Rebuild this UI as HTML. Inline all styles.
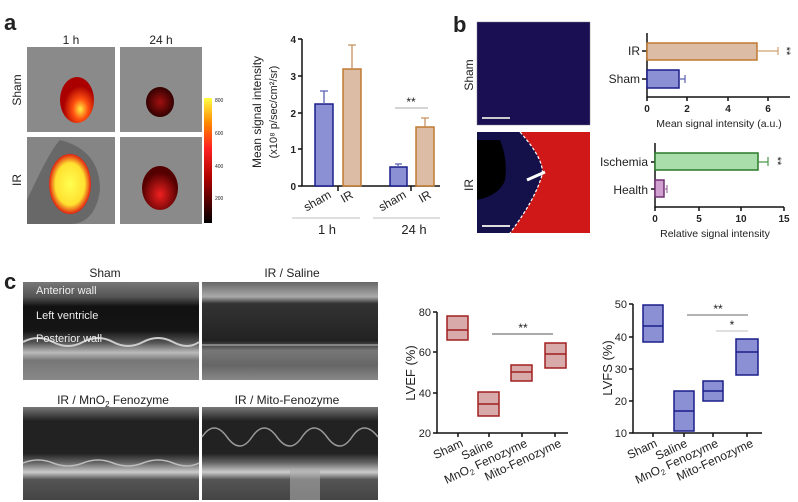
<!DOCTYPE html>
<html><head><meta charset="utf-8"><style>body{margin:0;background:#fff}svg{display:block}text{font-family:"Liberation Sans",Arial,sans-serif;fill:#222}</style></head>
<body>
<svg width="798" height="502" viewBox="0 0 798 502" xmlns="http://www.w3.org/2000/svg">
<defs>
<clipPath id="irc"><rect x="477" y="132" width="113" height="101"/></clipPath>
<linearGradient id="cb" x1="0" y1="1" x2="0" y2="0"><stop offset="0" stop-color="#000"/><stop offset="0.35" stop-color="#a00"/><stop offset="0.6" stop-color="#f22"/><stop offset="0.8" stop-color="#f80"/><stop offset="1" stop-color="#ff4"/></linearGradient>
<radialGradient id="hot1" cx="0.6" cy="0.7"><stop offset="0" stop-color="#ffee40"/><stop offset="0.45" stop-color="#ff5010"/><stop offset="1" stop-color="#a00"/></radialGradient>
<radialGradient id="hot2"><stop offset="0" stop-color="#a01010"/><stop offset="1" stop-color="#300"/></radialGradient>
<radialGradient id="hot3"><stop offset="0" stop-color="#ffff50"/><stop offset="0.7" stop-color="#ffe030"/><stop offset="1" stop-color="#e02010"/></radialGradient>
<radialGradient id="hot4" cy="0.65"><stop offset="0" stop-color="#f02020"/><stop offset="1" stop-color="#500"/></radialGradient>
<linearGradient id="us1" x1="0" y1="0" x2="0" y2="1"><stop offset="0" stop-color="#777"/><stop offset="0.15" stop-color="#555"/><stop offset="0.25" stop-color="#111"/><stop offset="0.5" stop-color="#151515"/><stop offset="0.62" stop-color="#555"/><stop offset="0.72" stop-color="#bbb"/><stop offset="0.8" stop-color="#777"/><stop offset="1" stop-color="#888"/></linearGradient>
<linearGradient id="us2" x1="0" y1="0" x2="0" y2="1"><stop offset="0" stop-color="#666"/><stop offset="0.15" stop-color="#aaa"/><stop offset="0.22" stop-color="#333"/><stop offset="0.6" stop-color="#222"/><stop offset="0.7" stop-color="#777"/><stop offset="0.85" stop-color="#666"/><stop offset="1" stop-color="#888"/></linearGradient>
<linearGradient id="us3" x1="0" y1="0" x2="0" y2="1"><stop offset="0" stop-color="#777"/><stop offset="0.15" stop-color="#222"/><stop offset="0.5" stop-color="#222"/><stop offset="0.6" stop-color="#666"/><stop offset="0.7" stop-color="#ccc"/><stop offset="0.78" stop-color="#555"/><stop offset="1" stop-color="#444"/></linearGradient>
</defs>

<!-- panel a -->
<text x="4" y="30" font-size="22" font-weight="bold" fill="#000">a</text>
<text x="71" y="44" font-size="12" text-anchor="middle">1 h</text>
<text x="161" y="44" font-size="12" text-anchor="middle">24 h</text>
<text transform="translate(21,90) rotate(-90)" font-size="12" text-anchor="middle">Sham</text>
<text transform="translate(21,180) rotate(-90)" font-size="12" text-anchor="middle">IR</text>
<rect x="27" y="47" width="88" height="85" fill="#8a8a8a"/>
<rect x="120" y="47" width="82" height="85" fill="#8c8c8c"/>
<rect x="27" y="137" width="88" height="87" fill="#858585"/>
<rect x="120" y="137" width="82" height="87" fill="#8a8a8a"/>
<path d="M60 140 Q100 150 100 190 Q95 224 70 224 L27 224 L27 200 Q50 150 60 140Z" fill="#555" opacity="0.6"/>
<ellipse cx="77" cy="100" rx="17" ry="23" fill="url(#hot1)"/>
<ellipse cx="160" cy="102" rx="14" ry="15" fill="url(#hot2)"/>
<ellipse cx="70" cy="184" rx="21" ry="30" fill="url(#hot3)"/>
<ellipse cx="160" cy="188" rx="18" ry="22" fill="url(#hot4)"/>
<rect x="204" y="98" width="8" height="125" fill="url(#cb)"/>
<g font-size="5" fill="#444"><text x="215" y="102">800</text><text x="215" y="135">600</text><text x="215" y="168">400</text><text x="215" y="200">200</text></g>

<text transform="translate(261,112) rotate(-90)" font-size="12" text-anchor="middle">Mean signal intensity</text>
<text transform="translate(277,112) rotate(-90)" font-size="11" text-anchor="middle">(x10⁸ p/sec/cm²/sr)</text>
<g stroke="#111" stroke-width="1.5" fill="none"><path d="M302 39 V186 H440"/><path d="M298 39H302M298 76H302M298 113H302M298 149H302M298 186H302M338 186V191M411 186V191"/></g>
<g font-size="10" font-weight="bold" text-anchor="end"><text x="296" y="43">4</text><text x="296" y="80">3</text><text x="296" y="117">2</text><text x="296" y="153">1</text><text x="296" y="190">0</text></g>
<rect x="315" y="104" width="18" height="82" fill="#8b8fd4" stroke="#1a1f8a" stroke-width="1.5"/>
<path d="M324 104V91M320 91H328" stroke="#5a5fb0" stroke-width="1.3"/>
<rect x="343" y="69" width="18" height="117" fill="#dcbca4" stroke="#c07a30" stroke-width="1.5"/>
<path d="M352 69V45M348 45H356" stroke="#c89060" stroke-width="1.3"/>
<rect x="390" y="167" width="17" height="19" fill="#8b8fd4" stroke="#1a1f8a" stroke-width="1.5"/>
<path d="M398 167V164M395 164H402" stroke="#5a5fb0" stroke-width="1.3"/>
<rect x="416" y="127" width="18" height="59" fill="#dcbca4" stroke="#c07a30" stroke-width="1.5"/>
<path d="M425 127V118M421 118H429" stroke="#c89060" stroke-width="1.3"/>
<path d="M395 108H428" stroke="#bbb" stroke-width="1.2"/>
<text x="411" y="106" font-size="12" text-anchor="middle" fill="#444">**</text>
<g font-size="12"><text transform="translate(332,197) rotate(-30)" text-anchor="end">sham</text><text transform="translate(354,197) rotate(-30)" text-anchor="end">IR</text><text transform="translate(407,197) rotate(-30)" text-anchor="end">sham</text><text transform="translate(432,197) rotate(-30)" text-anchor="end">IR</text></g>
<path d="M292 218H360M373 218H440" stroke="#ccc" stroke-width="1.2"/>
<text x="327" y="234" font-size="13" text-anchor="middle">1 h</text>
<text x="414" y="234" font-size="13" text-anchor="middle">24 h</text>

<!-- panel b -->
<text x="453" y="32" font-size="22" font-weight="bold" fill="#000">b</text>
<text transform="translate(473,75) rotate(-90)" font-size="12" text-anchor="middle">Sham</text>
<text transform="translate(473,185) rotate(-90)" font-size="12" text-anchor="middle">IR</text>
<rect x="477" y="22" width="113" height="103" fill="#1a0a3a" stroke="#888" stroke-width="0.5"/>
<rect x="477" y="22" width="113" height="103" fill="#2020a0" opacity="0.25"/>
<rect x="482" y="117" width="28" height="2" fill="#ccc"/>
<g clip-path="url(#irc)">
<rect x="477" y="132" width="113" height="101" fill="#14104a"/>
<path d="M477 140 L500 140 Q508 160 505 180 Q500 195 477 200Z" fill="#000"/>
<path d="M520 132 Q545 160 542 175 Q535 200 510 233 L590 233 L590 132Z" fill="#d01818"/>
<path d="M520 132 Q545 160 542 175 Q535 200 510 233" fill="none" stroke="#fff" stroke-width="1.2" stroke-dasharray="3,2"/>
<path d="M527 180 L545 172" stroke="#fff" stroke-width="3"/>
<rect x="482" y="225" width="28" height="2" fill="#ddd"/>
</g>

<g stroke="#111" stroke-width="1.5" fill="none"><path d="M647 33V97H790"/><path d="M647 97V101M687 97V101M728 97V101M768 97V101M642 51H647M642 79H647"/></g>
<rect x="647" y="43" width="110" height="17" fill="#dcbca4" stroke="#c07a30" stroke-width="1.5"/>
<path d="M757 51H778M778 47V55" stroke="#d0a070" stroke-width="1.2"/>
<rect x="647" y="70" width="32" height="18" fill="#8b8fd4" stroke="#1a1f8a" stroke-width="1.5"/>
<path d="M679 79H685M685 75V83" stroke="#5a5fb0" stroke-width="1.2"/>
<text transform="translate(783,51) rotate(90)" font-size="11" text-anchor="middle" fill="#555">**</text>
<g font-size="12" text-anchor="end"><text x="640" y="55">IR</text><text x="640" y="83">Sham</text></g>
<g font-size="10" font-weight="bold" text-anchor="middle"><text x="647" y="112">0</text><text x="687" y="112">2</text><text x="728" y="112">4</text><text x="768" y="112">6</text></g>
<text x="719" y="127" font-size="10.5" text-anchor="middle" fill="#333">Mean signal intensity  (a.u.)</text>

<g stroke="#111" stroke-width="1.5" fill="none"><path d="M655 143V207H784"/><path d="M655 207V211M699 207V211M741 207V211M784 207V211M651 162H655M651 189H655"/></g>
<rect x="655" y="153" width="103" height="17" fill="#a9ddaa" stroke="#2a7a2a" stroke-width="1.5"/>
<path d="M758 162H768M768 157V166" stroke="#4a9a4a" stroke-width="1.2"/>
<rect x="655" y="180" width="9" height="17" fill="#d0a0d0" stroke="#703070" stroke-width="1.5"/>
<path d="M664 189H667M667 185V193" stroke="#a070a0" stroke-width="1.2"/>
<text transform="translate(774,161) rotate(90)" font-size="11" text-anchor="middle" fill="#333">**</text>
<g font-size="12" text-anchor="end"><text x="648" y="166">Ischemia</text><text x="648" y="194">Health</text></g>
<g font-size="10" font-weight="bold" text-anchor="middle"><text x="655" y="222">0</text><text x="699" y="222">5</text><text x="741" y="222">10</text><text x="784" y="222">15</text></g>
<text x="715" y="237" font-size="10.5" text-anchor="middle" fill="#333">Relative signal intensity</text>

<!-- panel c -->
<text x="4" y="289" font-size="22" font-weight="bold" fill="#000">c</text>
<text x="105" y="277" font-size="12" text-anchor="middle">Sham</text>
<text x="292" y="277" font-size="12" text-anchor="middle">IR / Saline</text>
<text x="113" y="404" font-size="12" text-anchor="middle">IR / MnO<tspan font-size="8" dy="3">2</tspan><tspan dy="-3"> Fenozyme</tspan></text>
<text x="287" y="404" font-size="12" text-anchor="middle">IR / Mito-Fenozyme</text>
<rect x="23" y="282" width="176" height="98" fill="url(#us1)"/>
<rect x="202" y="282" width="176" height="98" fill="url(#us2)"/>
<rect x="23" y="407" width="176" height="93" fill="url(#us3)"/>
<rect x="202" y="407" width="176" height="93" fill="url(#us3)"/>
<path d="M23 342 q15 -8 30 0 t30 0 t30 0 t30 0 t30 0 t26 0" fill="none" stroke="#ccc" stroke-width="2"/>
<path d="M202 345 H378" stroke="#999" stroke-width="1.5"/>
<path d="M23 463 q15 -6 30 0 t30 0 t30 0 t30 0 t30 0 t26 0" fill="none" stroke="#bbb" stroke-width="1.5"/>
<path d="M202 437 q12 -18 25 0 t25 0 t25 0 t25 0 t25 0 t25 0 t26 0" fill="none" stroke="#999" stroke-width="1.5"/>
<rect x="290" y="470" width="30" height="30" fill="#aaa" opacity="0.6"/>
<g font-size="11"><text x="36" y="294" style="fill:#eee">Anterior wall</text><text x="36" y="319" style="fill:#eee">Left ventricle</text><text x="36" y="342" style="fill:#eee">Posterior wall</text></g>

<!-- LVEF -->
<text transform="translate(415,373) rotate(-90)" font-size="13" text-anchor="middle">LVEF (%)</text>
<g stroke="#111" stroke-width="1.5" fill="none"><path d="M437 312V433H568"/><path d="M433 312H437M433 352H437M433 393H437M433 433H437M458 433V437M489 433V437M522 433V437M555 433V437"/></g>
<g font-size="11" text-anchor="end"><text x="431" y="316">80</text><text x="431" y="356">60</text><text x="431" y="397">40</text><text x="431" y="437">20</text></g>
<g fill="#d9aaaa" stroke="#a02020" stroke-width="1.5">
<rect x="447" y="316" width="21" height="24"/><rect x="478" y="392" width="21" height="24"/><rect x="511" y="365" width="21" height="16"/><rect x="545" y="343" width="21" height="25"/></g>
<g stroke="#a02020" stroke-width="1.5"><path d="M447 330H468M478 404H499M511 372H532M545 354H566"/></g>
<path d="M492 334H553" stroke="#777" stroke-width="1.2"/>
<text x="523" y="332" font-size="12" text-anchor="middle" fill="#444">**</text>
<g font-size="12"><text transform="translate(464,446) rotate(-25)" text-anchor="end">Sham</text><text transform="translate(494,446) rotate(-25)" text-anchor="end">Saline</text><text transform="translate(528,446) rotate(-25)" text-anchor="end">MnO<tspan font-size="8" dy="3">2</tspan><tspan dy="-3"> Fenozyme</tspan></text><text transform="translate(562,446) rotate(-25)" text-anchor="end">Mito-Fenozyme</text></g>

<!-- LVFS -->
<text transform="translate(612,368) rotate(-90)" font-size="13" text-anchor="middle">LVFS (%)</text>
<g stroke="#111" stroke-width="1.5" fill="none"><path d="M633 304V433H762"/><path d="M629 304H633M629 337H633M629 369H633M629 401H633M629 433H633M653 433V437M684 433V437M713 433V437M747 433V437"/></g>
<g font-size="11" text-anchor="end"><text x="627" y="308">50</text><text x="627" y="341">40</text><text x="627" y="373">30</text><text x="627" y="405">20</text><text x="627" y="437">10</text></g>
<g fill="#8b8fd4" stroke="#1a1f8a" stroke-width="1.5">
<rect x="643" y="305" width="20" height="37"/><rect x="674" y="391" width="20" height="40"/><rect x="703" y="381" width="20" height="20"/><rect x="736" y="339" width="22" height="36"/></g>
<g stroke="#1a1f8a" stroke-width="1.5"><path d="M643 326H663M674 411H694M703 391H723M736 352H758"/></g>
<path d="M687 315H748" stroke="#888" stroke-width="1.2"/>
<path d="M716 331H748" stroke="#ccc" stroke-width="1.2"/>
<text x="718" y="313" font-size="12" text-anchor="middle" fill="#444">**</text>
<text x="732" y="329" font-size="12" text-anchor="middle" fill="#444">*</text>
<g font-size="12"><text transform="translate(658,446) rotate(-25)" text-anchor="end">Sham</text><text transform="translate(688,446) rotate(-25)" text-anchor="end">Saline</text><text transform="translate(719,446) rotate(-25)" text-anchor="end">MnO<tspan font-size="8" dy="3">2</tspan><tspan dy="-3"> Fenozyme</tspan></text><text transform="translate(754,446) rotate(-25)" text-anchor="end">Mito-Fenozyme</text></g>
</svg>
</body></html>
